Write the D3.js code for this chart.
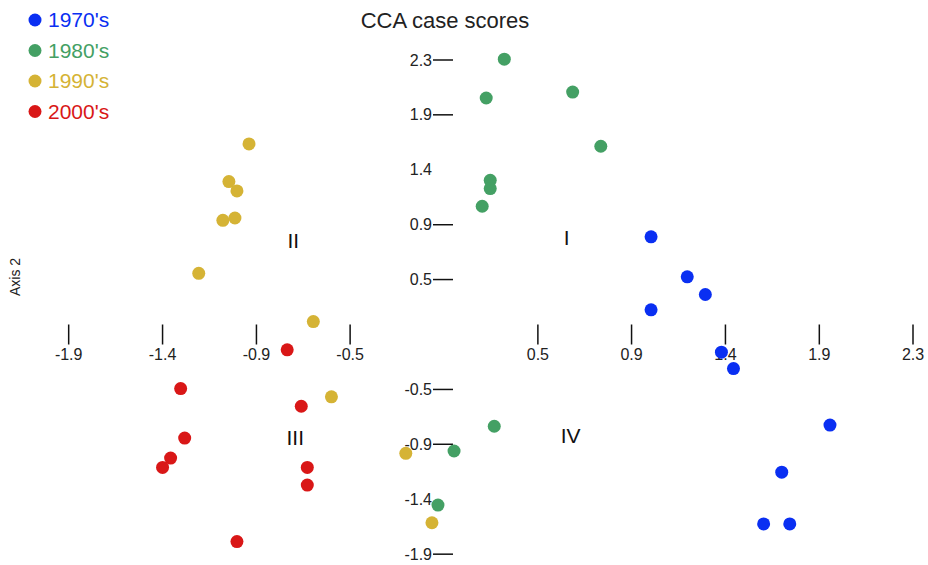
<!DOCTYPE html>
<html>
<head>
<meta charset="utf-8">
<script src="https://cdn.jsdelivr.net/npm/d3@7"></script>
<style>
  body { margin: 0; background: #fff; }
  svg { font-family: "Liberation Sans", Arial, sans-serif; }
</style>
</head>
<body>
<svg id="chart"></svg>
<script>
// decades / colours
let decades = ["1970's", "1980's", "1990's", "2000's"]
let colores = ["#0a2ff2", "#44a064", "#d5b335", "#d91717"]

// case scores, [axis1, axis2]
let s1970 = [[1.03, 0.83], [1.21, 0.49], [1.30, 0.34], [1.03, 0.21], [1.38, -0.15],
             [1.44, -0.29], [1.92, -0.77], [1.68, -1.17], [1.59, -1.61], [1.72, -1.61]]
let s1980 = [[0.30, 2.34], [0.21, 2.01], [0.64, 2.06], [0.78, 1.60], [0.23, 1.31],
             [0.23, 1.24], [0.19, 1.09], [0.25, -0.78], [0.05, -0.99], [-0.03, -1.45]]
let s1990 = [[-0.97, 1.62], [-1.07, 1.30], [-1.03, 1.22], [-1.10, 0.97], [-1.04, 0.99],
             [-1.22, 0.52], [-0.65, 0.11], [-0.56, -0.53], [-0.19, -1.01], [-0.06, -1.60]]
let s2000 = [[-0.78, -0.13], [-1.31, -0.46], [-0.71, -0.61], [-1.29, -0.88], [-1.36, -1.05],
             [-1.40, -1.13], [-0.68, -1.13], [-0.68, -1.28], [-1.03, -1.76]]

let series = [s1970, s1980, s1990, s2000]

let ticks = [-1.867, -1.4, -0.933, -0.467, 0.467, 0.933, 1.4, 1.867, 2.333]
let cuadrantes = [["I", 0.61, 0.82], ["II", -0.75, 0.80], ["III", -0.74, -0.88], ["IV", 0.63, -0.86]]

let width = 928
let height = 565

let svg = d3.select("#chart")
    .attr("width", width)
    .attr("height", height)

let x = d3.scaleLinear().domain([-2.333, 2.333]).range([-25, 913])
let y = d3.scaleLinear().domain([-2.333, 2.333]).range([609, 60])
let fmt = d => d.toFixed(1)

// title
svg.append("text")
    .attr("x", 445).attr("y", 28)
    .attr("text-anchor", "middle")
    .attr("font-size", "22px")
    .attr("fill", "#222")
    .text("CCA case scores")

// x axis, ticks cross the zero line
let xAxis = svg.append("g")
    .attr("transform", `translate(0,${y(0)})`)
let xt = xAxis.selectAll("g").data(ticks).enter().append("g")
    .attr("transform", d => `translate(${x(d)},0)`)
xt.append("line")
    .attr("y1", -10).attr("y2", 10)
    .attr("stroke", "#111").attr("stroke-width", 1.5)
xt.append("text")
    .attr("y", 25)
    .attr("text-anchor", "middle")
    .attr("font-size", "16px")
    .attr("fill", "#222")
    .text(d => fmt(d))

// y axis
let yAxis = svg.append("g")
    .attr("transform", `translate(${x(0)},0)`)
let yt = yAxis.selectAll("g").data(ticks).enter().append("g")
    .attr("transform", d => `translate(0,${y(d)})`)
yt.filter(d => Math.abs(Math.abs(d) - 1.4) > 0.01)
    .append("line")
    .attr("x1", -11).attr("x2", 9)
    .attr("stroke", "#111").attr("stroke-width", 1.5)
yt.append("text")
    .attr("x", -12)
    .attr("dy", "0.35em")
    .attr("text-anchor", "end")
    .attr("font-size", "16px")
    .attr("fill", "#222")
    .text(d => fmt(d))

// axis 2 label
svg.append("text")
    .attr("transform", "translate(20,277) rotate(-90)")
    .attr("text-anchor", "middle")
    .attr("font-size", "14px")
    .attr("fill", "#222")
    .text("Axis 2")

// quadrant labels
svg.selectAll(".quad").data(cuadrantes).enter().append("text")
    .attr("class", "quad")
    .attr("x", d => x(d[1]))
    .attr("y", d => y(d[2]))
    .attr("dy", "0.35em")
    .attr("text-anchor", "middle")
    .attr("font-size", "21px")
    .attr("fill", "#111")
    .text(d => d[0])

// points
series.forEach((s, i) => {
    svg.append("g").selectAll("circle")
        .data(s).enter().append("circle")
        .attr("cx", d => x(d[0]))
        .attr("cy", d => y(d[1]))
        .attr("r", 6.5)
        .attr("fill", colores[i])
})

// legend
let leg = svg.append("g").selectAll("g")
    .data(decades).enter().append("g")
    .attr("transform", (d, i) => `translate(35,${20 + i * 30.5})`)
leg.append("circle").attr("r", 6.5).attr("fill", (d, i) => colores[i])
leg.append("text")
    .attr("x", 13).attr("dy", "0.35em")
    .attr("font-size", "21px")
    .attr("fill", (d, i) => colores[i])
    .text(d => d)
</script>
</body>
</html>
